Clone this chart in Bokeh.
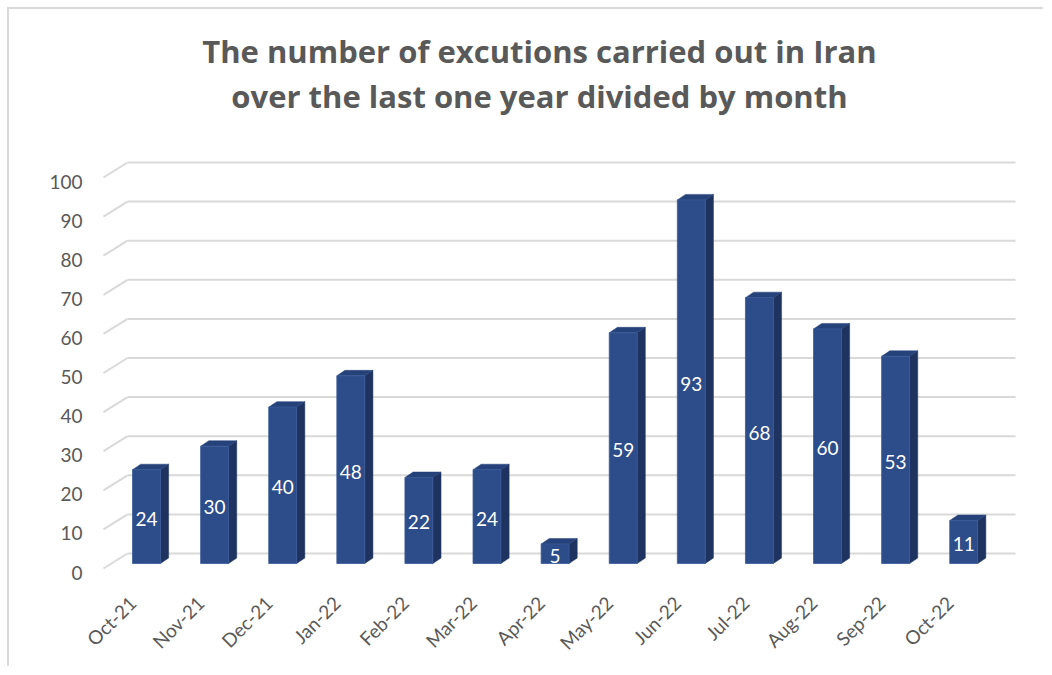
import math
from bokeh.plotting import figure
from bokeh.models import ColumnDataSource, FixedTicker, Range1d
from bokeh.core.properties import value
from bokeh.embed import file_html
from bokeh.resources import INLINE

# ---- data ----
months = ["Oct-21", "Nov-21", "Dec-21", "Jan-22", "Feb-22", "Mar-22", "Apr-22",
          "May-22", "Jun-22", "Jul-22", "Aug-22", "Sep-22", "Oct-22"]
executions = [24, 30, 40, 48, 22, 24, 5, 59, 93, 68, 60, 53, 11]
yticks = [0, 10, 20, 30, 40, 50, 60, 70, 80, 90, 100]
title_lines = ["The number of excutions carried out in Iran",
               "over the last one year divided by month"]

# ---- style / pseudo-3D geometry (in data units) ----
FRONT = "#2D4C8A"
SIDE = "#1E3360"
TOP = "#26427A"
GRID = "#D9D9D9"
TXT = "#595959"
FONT = "Lato"

xoff = 0.2056   # bar centre offset from tick
hw = 0.205      # half width of front face
dx = 0.12       # depth offset x
dy = 1.4        # depth offset y
fd = 1.02       # front floor edge above tick label centre
b0 = 2.30       # bar base
w0 = 3.84       # back wall offset from front edge
xf = -0.426     # front-left end of grid diagonal
xb = -0.073     # back-left of wall
xr = 12.966     # right end of wall

p = figure(width=1036, height=659, output_backend="svg", toolbar_location=None,
           x_range=Range1d(-0.499, 13.113), y_range=Range1d(0, 143.99),
           min_border_left=89, min_border_right=20, min_border_top=0,
           min_border_bottom=96, background_fill_color="white",
           border_fill_color="white")
p.styles = {"margin-left": "7px", "margin-top": "7px",
            "border-left": "2px solid #D9D9D9", "border-top": "2px solid #D9D9D9"}
p.outline_line_color = None
p.xgrid.visible = False
p.ygrid.visible = False

# gridlines: back wall + left diagonal
n = len(yticks)
p.segment(x0=[xb] * n, y0=[t + fd + w0 for t in yticks],
          x1=[xr] * n, y1=[t + fd + w0 for t in yticks],
          line_color=GRID, line_width=2)
p.segment(x0=[xf] * n, y0=[t + fd for t in yticks],
          x1=[xb] * n, y1=[t + fd + w0 for t in yticks],
          line_color=GRID, line_width=2)

# bars
fx, fy, sx, sy, tx, ty = [], [], [], [], [], []
for i, v in enumerate(executions):
    c = i + xoff
    l, r = c - hw, c + hw
    fx.append([l, r, r, l]); fy.append([b0, b0, b0 + v, b0 + v])
    sx.append([r, r + dx, r + dx, r]); sy.append([b0, b0 + dy, b0 + v + dy, b0 + v])
    tx.append([l, l + dx, r + dx, r]); ty.append([b0 + v, b0 + v + dy, b0 + v + dy, b0 + v])
p.patches(sx, sy, fill_color=SIDE, line_color=SIDE, line_width=0.5)
p.patches(tx, ty, fill_color=TOP, line_color=TOP, line_width=0.5)
p.patches(fx, fy, fill_color=FRONT, line_color="#3A5A98", line_width=0.8)

# data labels
lab = ColumnDataSource(dict(x=[i + xoff for i in range(len(executions))],
                            y=[b0 + v / 2 - 0.5 for v in executions],
                            t=[str(v) for v in executions]))
p.text(x="x", y="y", text="t", source=lab, text_color="white",
       text_font=value(FONT), text_font_size="19px",
       text_align="center", text_baseline="middle")

# title
cx = 5.976
p.text(x=[cx, cx], y=[133.3, 121.8], text=title_lines, text_color=TXT,
       text_font=value("Open Sans"), text_font_size="31px", text_font_style="bold",
       text_align="center", text_baseline="alphabetic")

# axes
p.yaxis.ticker = FixedTicker(ticks=yticks)
p.yaxis.axis_line_color = None
p.yaxis.major_tick_line_color = None
p.yaxis.minor_tick_line_color = None
p.yaxis.major_label_standoff = 10
p.yaxis.major_label_text_font = FONT
p.yaxis.major_label_text_font_size = "19px"
p.yaxis.major_label_text_color = TXT

p.xaxis.ticker = FixedTicker(ticks=list(range(len(months))))
p.xaxis.major_label_overrides = {i: m for i, m in enumerate(months)}
p.xaxis.major_label_orientation = math.pi / 4
p.xaxis.axis_line_color = None
p.xaxis.major_tick_line_color = None
p.xaxis.minor_tick_line_color = None
p.xaxis.major_label_standoff = 21
p.xaxis.major_label_text_font = FONT
p.xaxis.major_label_text_font_size = "19px"
p.xaxis.major_label_text_color = TXT

open("out.html", "w").write(file_html(p, INLINE))
